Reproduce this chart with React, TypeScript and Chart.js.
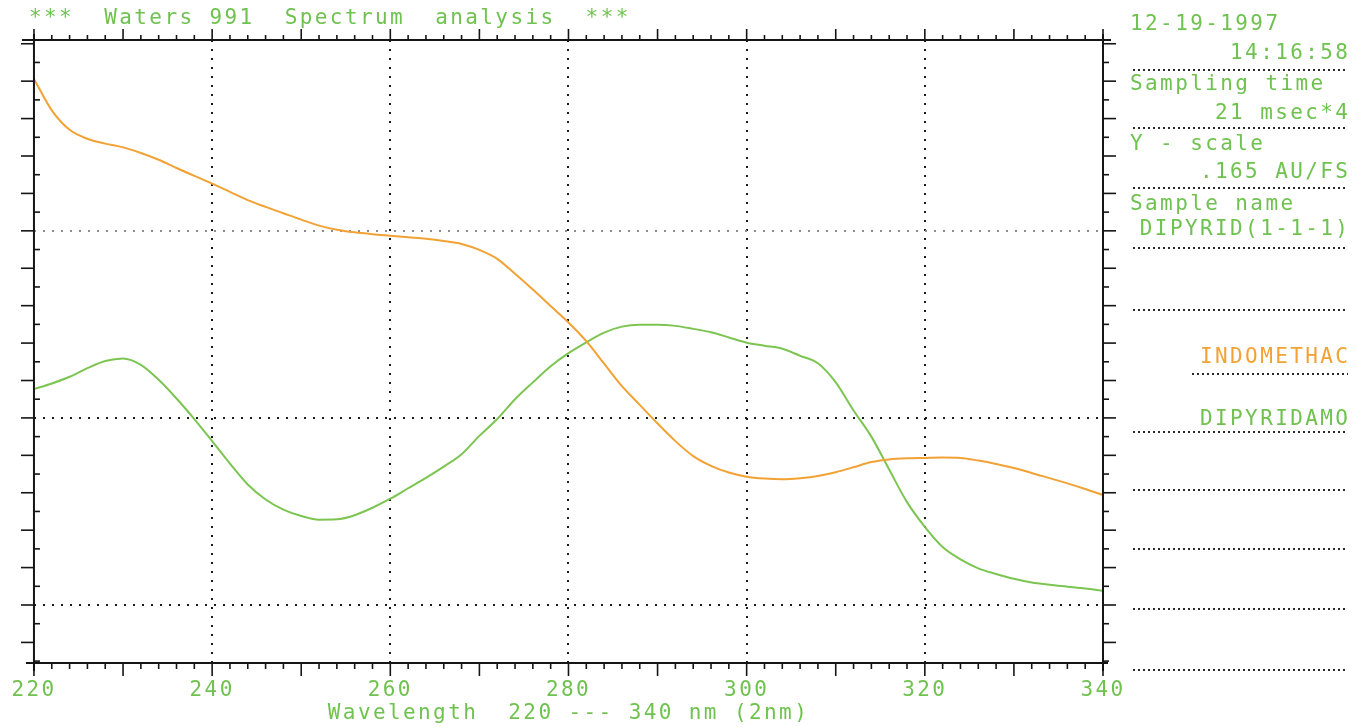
import React, { useEffect, useRef } from "react";
import { Chart, registerables } from "chart.js";

Chart.register(...registerables);

// ---------- data ----------
const wavelengths = [
  220, 222, 224, 226, 228, 230, 232, 234, 236, 238,
  240, 242, 244, 246, 248, 250, 252, 254, 256, 258,
  260, 262, 264, 266, 268, 270, 272, 274, 276, 278,
  280, 282, 284, 286, 288, 290, 292, 294, 296, 298,
  300, 302, 304, 306, 308, 310, 312, 314, 316, 318,
  320, 322, 324, 326, 328, 330, 332, 334, 336, 338,
  340,
];

const indomethacin = [
  14.06, 13.22, 12.7, 12.46, 12.33, 12.23, 12.08, 11.9, 11.68, 11.47,
  11.26, 11.04, 10.82, 10.64, 10.47, 10.3, 10.14, 10.03, 9.96, 9.91,
  9.87, 9.83, 9.79, 9.73, 9.65, 9.49, 9.25, 8.85, 8.43, 7.99,
  7.55, 7.05, 6.45, 5.85, 5.35, 4.85, 4.38, 3.98, 3.72, 3.54,
  3.43, 3.38, 3.36, 3.39, 3.45, 3.55, 3.68, 3.82, 3.89, 3.92,
  3.93, 3.94, 3.93, 3.86, 3.77, 3.66, 3.53, 3.39, 3.25, 3.1,
  2.94,
];

const dipyridamole = [
  5.77, 5.92, 6.1, 6.33, 6.52, 6.59, 6.42, 6.02, 5.52, 4.97,
  4.38, 3.78, 3.22, 2.82, 2.55, 2.38, 2.28, 2.29, 2.4, 2.6,
  2.84, 3.12, 3.4, 3.7, 4.03, 4.52, 4.97, 5.5, 5.95, 6.38,
  6.73, 7.02, 7.28, 7.44, 7.49, 7.49, 7.46, 7.38, 7.29, 7.15,
  7.01, 6.93, 6.85, 6.66, 6.46, 5.95, 5.2, 4.5, 3.62, 2.75,
  2.09, 1.55, 1.22, 0.98, 0.83, 0.7, 0.6, 0.54, 0.49, 0.44,
  0.38,
];

const seriesLabels = ["INDOMETHAC", "DIPYRIDAMO"];
const xTickValues = [220, 240, 260, 280, 300, 320, 340];
const yGridValues = [0, 5, 10];
const titleText = "***  Waters 991  Spectrum  analysis  ***";
const xAxisTitle = "Wavelength  220 --- 340 nm (2nm)";
const infoLines = [
  "12-19-1997",
  "14:16:58",
  "Sampling time",
  "21 msec*4",
  "Y - scale",
  ".165 AU/FS",
  "Sample name",
  "DIPYRID(1-1-1)",
];

// ---------- styling / layout ----------
const FAMILY = '"DejaVu Sans Mono", monospace';
const FONT_SIZE = 21;
const SPACING = 2.4;
const GREEN = "#6fc24f";
const ORANGE = "#f2a235";
const LINE_GREEN = "#7cc552";

const infoLayout = [
  { align: "left", y: 25 },
  { align: "right", y: 54 },
  { align: "left", y: 85 },
  { align: "right", y: 114 },
  { align: "left", y: 145 },
  { align: "right", y: 173 },
  { align: "left", y: 205 },
  { align: "right", y: 230 },
];
const legendY = [358, 420];
const panelRules: [number, number][] = [
  [70, 1133], [128, 1133], [188, 1133], [248, 1133], [310, 1133],
  [374, 1192], [432, 1133], [490, 1133], [549, 1133], [609, 1133], [670, 1133],
];

function seg(ctx: CanvasRenderingContext2D, x1: number, y1: number, x2: number, y2: number) {
  ctx.beginPath();
  ctx.moveTo(x1, y1);
  ctx.lineTo(x2, y2);
  ctx.stroke();
}

const plotterPlugin = {
  id: "plotter",
  beforeDraw(chart: any) {
    (chart.ctx as any).letterSpacing = SPACING + "px";
  },
  afterDraw(chart: any) {
    const ctx: CanvasRenderingContext2D = chart.ctx;
    const a = chart.chartArea;
    const xs = chart.scales.x;
    const ys = chart.scales.y;
    ctx.save();
    ctx.setLineDash([]);
    ctx.strokeStyle = "#151515";
    ctx.lineWidth = 2;
    // frame
    seg(ctx, a.left - 12, a.top, a.right + 8, a.top);
    seg(ctx, a.left - 8, a.bottom, a.right + 5, a.bottom);
    seg(ctx, a.left, a.top - 6, a.left, a.bottom + 8);
    seg(ctx, a.right, a.top - 6, a.right, a.bottom + 8);

    // x tick marks (every sample, 2 nm)
    ctx.lineWidth = 1.6;
    wavelengths.forEach((w) => {
      const px = xs.getPixelForValue(w);
      const major = w % 10 === 0;
      seg(ctx, px, a.top, px, a.top - (major ? 11 : 5));
      seg(ctx, px, a.bottom, px, a.bottom + (major ? 13 : 6));
    });
    // y tick marks
    for (let k = Math.ceil(ys.min * 2); k <= Math.floor(ys.max * 2); k++) {
      const py = ys.getPixelForValue(k / 2);
      if (k % 2 === 0) {
        seg(ctx, a.left - 13, py, a.left, py);
        seg(ctx, a.right, py, a.right + 13, py);
      } else {
        seg(ctx, a.left, py, a.left + 6, py);
        seg(ctx, a.right, py, a.right + 6, py);
      }
    }

    // side panel dotted rules
    ctx.setLineDash([2, 3]);
    ctx.lineWidth = 2;
    ctx.strokeStyle = "#2a2a2a";
    panelRules.forEach(([yy, x0]) => seg(ctx, x0, yy, 1348, yy));
    ctx.setLineDash([]);

    // texts
    ctx.font = `${FONT_SIZE}px ${FAMILY}`;
    (ctx as any).letterSpacing = SPACING + "px";
    ctx.textBaseline = "middle";
    ctx.fillStyle = GREEN;
    ctx.textAlign = "left";
    ctx.fillText(titleText, 29, 19);
    infoLines.forEach((t, i) => {
      const p = infoLayout[i];
      ctx.textAlign = p.align as CanvasTextAlign;
      ctx.fillText(t, p.align === "right" ? 1348 + SPACING : 1130, p.y);
    });
    chart.data.datasets.forEach((ds: any, i: number) => {
      ctx.fillStyle = i === 0 ? ORANGE : GREEN;
      ctx.textAlign = "right";
      ctx.fillText(ds.label, 1348 + SPACING, legendY[i]);
    });
    ctx.restore();
  },
};

export default function App() {
  const ref = useRef<HTMLCanvasElement>(null);

  useEffect(() => {
    const font = { family: FAMILY, size: FONT_SIZE };
    const chart = new Chart(ref.current as HTMLCanvasElement, {
      type: "line",
      data: {
        datasets: [
          {
            label: seriesLabels[0],
            data: wavelengths.map((w, i) => ({ x: w, y: indomethacin[i] })),
            borderColor: ORANGE,
            borderWidth: 2,
            pointRadius: 0,
            cubicInterpolationMode: "monotone",
            fill: false,
          },
          {
            label: seriesLabels[1],
            data: wavelengths.map((w, i) => ({ x: w, y: dipyridamole[i] })),
            borderColor: LINE_GREEN,
            borderWidth: 2,
            pointRadius: 0,
            cubicInterpolationMode: "monotone",
            fill: false,
          },
        ],
      },
      options: {
        animation: false,
        responsive: false,
        devicePixelRatio: 1,
        layout: { padding: { top: 40, right: 250, left: 0, bottom: 0 } },
        plugins: {
          legend: { display: false },
          tooltip: { enabled: false },
          title: { display: false },
        },
        scales: {
          x: {
            type: "linear",
            min: 220,
            max: 340,
            afterFit: (s: any) => {
              s.height = 64;
            },
            afterBuildTicks: (s: any) => {
              s.ticks = xTickValues.map((v) => ({ value: v }));
            },
            grid: {
              drawTicks: false,
              lineWidth: 2,
              color: (c: any) =>
                c.tick && (c.tick.value === 220 || c.tick.value === 340)
                  ? "rgba(0,0,0,0)"
                  : "#1a1a1a",
            },
            border: { display: false, dash: [2, 7] },
            ticks: {
              color: GREEN,
              font,
              padding: 15,
              autoSkip: false,
              maxRotation: 0,
              callback: (v: any) => String(v),
            },
            title: {
              display: true,
              text: xAxisTitle,
              color: GREEN,
              font,
              padding: { top: 0, bottom: 1 },
            },
          },
          y: {
            type: "linear",
            min: -1.55,
            max: 15.1,
            afterFit: (s: any) => {
              s.width = 30;
            },
            afterBuildTicks: (s: any) => {
              s.ticks = yGridValues.map((v) => ({ value: v }));
            },
            grid: {
              drawTicks: false,
              lineWidth: 2,
              color: (c: any) => (c.tick && c.tick.value === 10 ? "#8c8c8c" : "#1a1a1a"),
            },
            border: { display: false, dash: [2, 7] },
            ticks: { display: false },
          },
        },
      },
      plugins: [plotterPlugin],
    } as any);
    return () => chart.destroy();
  }, []);

  return (
    <canvas
      ref={ref}
      width={1353}
      height={727}
      style={{
        position: "absolute",
        left: 0,
        top: 0,
        width: 1353,
        height: 727,
        display: "block",
        background: "#ffffff",
      }}
    />
  );
}
